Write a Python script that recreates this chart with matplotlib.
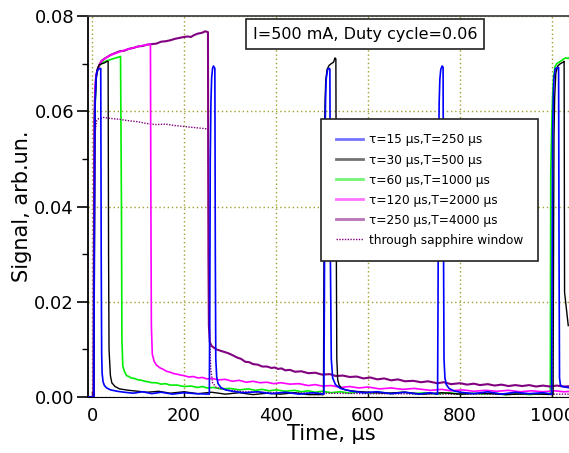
import matplotlib
matplotlib.use('Agg')
import matplotlib.pyplot as plt
from matplotlib.ticker import MultipleLocator, FormatStrFormatter

# tau=15 us, T=250 us (blue)
blue_t = [-8, 4, 5, 6, 7, 8.5, 10, 13, 19, 20, 21, 22, 24, 27, 32, 40, 55, 70, 90, 110, 130, 150, 175, 200, 225, 255,
          256, 257, 258.5, 260, 262, 264, 267, 268, 269, 271, 274, 280, 290, 305, 330, 360, 390, 420, 450, 480, 504,
          505, 506, 507.5, 509, 512, 516, 517, 518, 520, 523, 529, 540, 560, 590, 620, 650, 680, 710, 735, 751,
          752, 753, 754.5, 756, 758, 761, 763, 764, 765, 767, 770, 776, 786, 800, 830, 860, 890, 920, 950, 980, 999,
          1000, 1001, 1002.5, 1004, 1007, 1014, 1015, 1016, 1018, 1022, 1045]
blue_y = [0, 0, 0.030, 0.055, 0.062, 0.0660, 0.0680, 0.0688, 0.0690, 0.030, 0.009, 0.005, 0.0032, 0.0024, 0.0019,
          0.0015, 0.0012, 0.0010, 0.0008, 0.0011, 0.0007, 0.0010, 0.0006, 0.0009, 0.0007, 0.0006,
          0.020, 0.050, 0.062, 0.0670, 0.0690, 0.0695, 0.0690, 0.030, 0.008, 0.0042, 0.0028, 0.0020, 0.0015, 0.0012,
          0.0009, 0.0011, 0.0007, 0.0010, 0.0006, 0.0009, 0.0006,
          0.020, 0.050, 0.062, 0.0668, 0.0688, 0.0690, 0.0688, 0.030, 0.008, 0.0040, 0.0026, 0.0018, 0.0013,
          0.0009, 0.0011, 0.0007, 0.0010, 0.0006, 0.0009, 0.0006,
          0.020, 0.050, 0.062, 0.0668, 0.0688, 0.0695, 0.0692, 0.030, 0.008, 0.0040, 0.0026, 0.0018, 0.0013,
          0.0010, 0.0007, 0.0011, 0.0006, 0.0010, 0.0007, 0.0009, 0.0006,
          0.030, 0.055, 0.063, 0.0670, 0.0690, 0.0692, 0.030, 0.004, 0.0025, 0.0022, 0.0018]

# tau=30 us, T=500 us (black)
black_t = [-8, 4, 5, 6, 7, 9, 12, 16, 22, 28, 33, 35, 36, 37, 40, 43, 50, 60, 80, 100, 120, 145, 170, 200, 230, 260,
           290, 320, 350, 380, 410, 440, 470, 503,
           504, 505, 506.5, 508, 511, 515, 520, 525, 528, 530, 531, 532, 534, 537, 542, 550, 570, 600, 640, 680, 720,
           760, 800, 850, 900, 950, 1002,
           1003, 1004, 1005.5, 1008, 1012, 1018, 1024, 1026, 1027, 1035]
black_y = [0, 0, 0.030, 0.055, 0.062, 0.0670, 0.0690, 0.0698, 0.0700, 0.0702, 0.0705, 0.0705, 0.030, 0.010, 0.0045,
           0.0030, 0.0022, 0.0017, 0.0014, 0.0012, 0.0010, 0.0012, 0.0008, 0.0011, 0.0007, 0.0010, 0.0006, 0.0009,
           0.0005, 0.0008, 0.0006, 0.0009, 0.0005, 0.0005,
           0.025, 0.052, 0.062, 0.0665, 0.0688, 0.0696, 0.0700, 0.0703, 0.0712, 0.0710, 0.030, 0.008, 0.0036,
           0.0025, 0.0019, 0.0015, 0.0012, 0.0010, 0.0008, 0.0010, 0.0006, 0.0009, 0.0006, 0.0008, 0.0005, 0.0007,
           0.0005,
           0.030, 0.055, 0.063, 0.0680, 0.0695, 0.0700, 0.0703, 0.0705, 0.022, 0.0150]

# tau=60 us, T=1000 us (green)
green_t = [-8, 4, 5, 6, 7, 9, 12, 18, 25, 35, 45, 55, 62, 64, 65, 67, 70, 75, 80, 85, 92, 100, 108, 115, 122, 130,
           140, 150, 160, 170, 185, 200, 215, 230, 240, 250, 265, 280, 300, 320, 340, 355, 370, 385, 400, 420, 440,
           455, 470, 485, 500, 520, 540, 560, 580, 600, 625, 650, 675, 700, 725, 750, 775, 800, 825, 850, 875, 900,
           925, 950, 975, 996,
           997, 998, 999.5, 1001, 1003, 1006, 1010, 1015, 1020, 1025, 1030, 1035, 1040, 1045]
green_y = [0, 0, 0.030, 0.055, 0.062, 0.0670, 0.0688, 0.0698, 0.0703, 0.0707, 0.0710, 0.0713, 0.0715, 0.040, 0.012,
           0.0065, 0.0055, 0.0045, 0.0043, 0.0040, 0.0039, 0.0036, 0.0035, 0.0033, 0.0032, 0.0030, 0.0030, 0.0027,
           0.0028, 0.0025, 0.0025, 0.0022, 0.0023, 0.0020, 0.0022, 0.0019, 0.0020, 0.0017, 0.0018, 0.0015, 0.0017,
           0.0014, 0.0016, 0.0013, 0.0015, 0.0012, 0.0014, 0.0011, 0.0013, 0.0010, 0.0012, 0.0009, 0.0011, 0.0008,
           0.0011, 0.0008, 0.0010, 0.0007, 0.0010, 0.0007, 0.0009, 0.0006, 0.0009, 0.0006, 0.0008, 0.0006, 0.0008,
           0.0005, 0.0008, 0.0005, 0.0007, 0.0006,
           0.047, 0.052, 0.058, 0.063, 0.067, 0.0693, 0.0700, 0.0703, 0.0706, 0.0710, 0.0712, 0.0711, 0.0714, 0.0715]

# tau=120 us, T=2000 us (magenta)
magenta_t = [-8, 4, 5, 6, 7, 9, 12, 16, 20, 30, 40, 50, 60, 70, 80, 90, 100, 110, 118, 125, 127, 128, 129, 131,
             135, 140, 148, 155, 162, 170, 178, 185, 192, 200, 210, 220, 230, 240, 250, 260, 275, 290, 305, 320, 335,
             350, 365, 380, 395, 410, 430, 450, 470, 485, 500, 520, 540, 560, 580, 600, 625, 650, 675, 700, 735, 760,
             780, 805, 830, 855, 880, 905, 930, 955, 980, 1005, 1025, 1045]
magenta_y = [0, 0, 0.030, 0.058, 0.065, 0.0675, 0.0687, 0.0697, 0.0705, 0.0712, 0.0718, 0.0721, 0.0725, 0.0728,
             0.0731, 0.0733, 0.0736, 0.0738, 0.0739, 0.0741, 0.0741, 0.040, 0.015, 0.0090, 0.0075, 0.0067, 0.0061,
             0.0058, 0.0054, 0.0052, 0.0049, 0.0048, 0.0046, 0.0045, 0.0042, 0.0043, 0.0040, 0.0041, 0.0038, 0.0039,
             0.0036, 0.0037, 0.0033, 0.0035, 0.0031, 0.0033, 0.0030, 0.0031, 0.0028, 0.0030, 0.0027, 0.0028, 0.0024,
             0.0026, 0.0023, 0.0024, 0.0020, 0.0022, 0.0019, 0.0021, 0.0017, 0.0019, 0.0016, 0.0018, 0.0014, 0.0016,
             0.0013, 0.0015, 0.0012, 0.0014, 0.0012, 0.0014, 0.0011, 0.0013, 0.0011, 0.0013, 0.0011, 0.0012]

# tau=250 us, T=4000 us (purple)
purple_t = [-8, 3, 4, 5, 7, 9, 12, 16, 20, 25, 30, 40, 50, 60, 70, 80, 90, 100, 110, 120, 130, 140, 150, 160, 170,
            180, 190, 200, 208, 215, 222, 230, 240, 246, 252, 253, 254, 256, 260, 270, 283, 296, 305, 315, 324, 333,
            342, 350, 360, 370, 380, 390, 397, 404, 412, 420, 430, 441, 455, 470, 485, 500, 517, 530, 545, 560, 575,
            590, 605, 620, 635, 650, 665, 680, 698, 715, 730, 750, 765, 780, 800, 815, 830, 843, 860, 875, 890, 905,
            920, 935, 950, 965, 980, 995, 1010, 1025, 1045]
purple_y = [0, 0, 0.030, 0.058, 0.065, 0.0675, 0.0687, 0.0697, 0.0705, 0.0709, 0.0712, 0.0718, 0.0722, 0.0726,
            0.0727, 0.0731, 0.0733, 0.0736, 0.0737, 0.0740, 0.0741, 0.0742, 0.0746, 0.0747, 0.0749, 0.0752, 0.0754,
            0.0756, 0.0757, 0.0756, 0.0760, 0.0763, 0.0765, 0.0768, 0.0766, 0.030, 0.015, 0.0115, 0.0107, 0.0100,
            0.0096, 0.0092, 0.0088, 0.0083, 0.0080, 0.0074, 0.0073, 0.0069, 0.0068, 0.0064, 0.0064, 0.0061, 0.0062,
            0.0059, 0.0060, 0.0056, 0.0057, 0.0053, 0.0054, 0.0050, 0.0051, 0.0047, 0.0048, 0.0044, 0.0045, 0.0042,
            0.0043, 0.0039, 0.0041, 0.0037, 0.0039, 0.0035, 0.0037, 0.0033, 0.0034, 0.0031, 0.0033, 0.0029, 0.0031,
            0.0027, 0.0029, 0.0026, 0.0028, 0.0025, 0.0027, 0.0024, 0.0026, 0.0023, 0.0025, 0.0023, 0.0025, 0.0022,
            0.0024, 0.0022, 0.0024, 0.0022, 0.0023]

# through sapphire window (purple dotted)
sapph_t = [-8, 3, 4, 6, 10, 15, 25, 40, 60, 80, 100, 120, 140, 160, 180, 200, 220, 240, 250, 252, 254, 256, 258,
           262, 270, 290, 330, 400, 500, 600, 800, 1045]
sapph_y = [0, 0, 0.030, 0.055, 0.0580, 0.0585, 0.0587, 0.0585, 0.0583, 0.0580, 0.0578, 0.0574, 0.0572, 0.0573,
           0.0570, 0.0568, 0.0566, 0.0564, 0.0563, 0.0560, 0.030, 0.012, 0.006, 0.003, 0.0020, 0.0015, 0.0011,
           0.0009, 0.0008, 0.0007, 0.0006, 0.0006]

labels = ['\u03c4=15 \u03bcs,T=250 \u03bcs',
          '\u03c4=30 \u03bcs,T=500 \u03bcs',
          '\u03c4=60 \u03bcs,T=1000 \u03bcs',
          '\u03c4=120 \u03bcs,T=2000 \u03bcs',
          '\u03c4=250 \u03bcs,T=4000 \u03bcs',
          'through sapphire window']

plt.rcParams['font.family'] = ['DejaVu Sans']

fig = plt.figure(figsize=(5.69, 4.53), dpi=100)
ax = fig.add_axes([88 / 569, 56 / 453, 512 / 569, 381 / 453])

l1, = ax.plot(blue_t, blue_y, color='#0000ff', lw=1.2, zorder=5)
l2, = ax.plot(black_t, black_y, color='black', lw=1.0, zorder=4)
l3, = ax.plot(green_t, green_y, color='#00ee00', lw=1.2, zorder=3)
l4, = ax.plot(magenta_t, magenta_y, color='#ff00ff', lw=1.2, zorder=3.5)
l5, = ax.plot(purple_t, purple_y, color='#800080', lw=1.5, zorder=3.2)
l6, = ax.plot(sapph_t, sapph_y, color='#800080', lw=1.0, ls=(0, (1, 1)), zorder=3)

ax.set_xlim(-8.7, 1104)
ax.set_ylim(0, 0.08)
ax.xaxis.set_major_locator(MultipleLocator(200))
ax.yaxis.set_major_locator(MultipleLocator(0.02))
ax.yaxis.set_minor_locator(MultipleLocator(0.01))
ax.yaxis.set_major_formatter(FormatStrFormatter('%.2f'))
ax.tick_params(axis='y', which='major', direction='out', length=8, width=1.2, labelsize=13, pad=2)
ax.tick_params(axis='y', which='minor', direction='out', length=4, width=1.0)
ax.tick_params(axis='x', which='major', direction='in', length=4, width=1.0, labelsize=13, pad=7)
ax.grid(True, which='major', color='#a0a030', ls=(0, (1, 2)), lw=1.0)
ax.set_axisbelow(True)
for s in ['left', 'top']:
    ax.spines[s].set_linewidth(1.3)
ax.spines['top'].set_color('#444444')
ax.spines['right'].set_visible(False)

fig.text(331 / 569, 1 - 434 / 453, 'Time, \u03bcs', fontsize=15, ha='center', va='center')
fig.text(22 / 569, 1 - 206 / 453, 'Signal, arb.un.', fontsize=15, ha='center', va='center', rotation=90)

fig.text(365 / 569, 1 - 34 / 453, 'I=500 mA, Duty cycle=0.06', fontsize=11.5, ha='center', va='center',
         bbox=dict(boxstyle='square,pad=0.45', fc='white', ec='#222222', lw=1.2))

leg = ax.legend([l1, l2, l3, l4, l5, l6], labels, loc='upper left',
                bbox_to_anchor=(321 / 569, 1 - 119 / 453), bbox_transform=fig.transFigure,
                fontsize=8.7, frameon=True, fancybox=False, framealpha=1, edgecolor='#222222',
                borderpad=1.2, labelspacing=0.58, handlelength=2.3, handletextpad=0.5, borderaxespad=0)
leg.get_frame().set_linewidth(1.2)
for h in leg.get_lines()[:5]:
    h.set_linewidth(2.0)
    h.set_alpha(0.55)

fig.savefig('out.png', dpi=100)
